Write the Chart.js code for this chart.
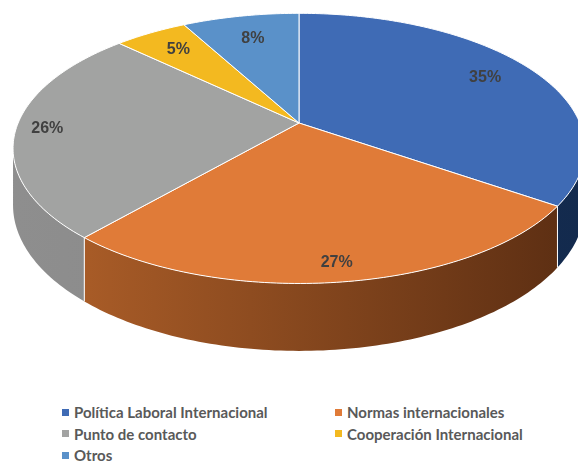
<!DOCTYPE html>
<html>
<head>
<meta charset="utf-8">
<script src="https://cdn.jsdelivr.net/npm/chart.js@4.4.1/dist/chart.umd.min.js"></script>
<style>
  html, body { margin: 0; padding: 0; background: #fff; }
  #wrap { position: relative; width: 578px; height: 462px; overflow: hidden; }
  #chartBox { position: absolute; left: 0; top: 0; width: 578px; height: 370px; }
  #legend {
    position: absolute; left: 62px; top: 403px;
    display: grid; grid-template-columns: 273px auto; row-gap: 3.5px;
    font: bold 15px Lato, "Open Sans", sans-serif; color: #595959;
  }
  #legend .item { display: flex; align-items: center; height: 18px; white-space: nowrap; }
  #legend .box { width: 7px; height: 7px; margin-right: 5px; flex: none; }
</style>
</head>
<body>
<div id="wrap">
  <div id="chartBox"><canvas id="pie3d"></canvas></div>
  <div id="legend"></div>
</div>
<script>
const labels = [
  'Política Laboral Internacional',
  'Normas internacionales',
  'Punto de contacto',
  'Cooperación Internacional',
  'Otros'
];
const values = [35, 27, 26, 5, 8];

const topColors = ['#3F6BB5', '#E07B38', '#A2A3A2', '#F3B920', '#5A91C9'];
// light / dark shade for the rim of each slice
const sideShades = [
  ['#1A3360', '#132A4D'],
  ['#B3622A', '#5A2D12'],
  ['#8E8E8E', '#838383'],
  ['#B88C18', '#8A6810'],
  ['#3F6C99', '#2E5478']
];
const labelRadius = [0.8, 0.9, 0.89, 0.79, 0.76];

// perspective of the tilted disc, in units of the pie radius
const SPREAD_X = 2.565;
const SPREAD_Y = 1.19;
const PERSP = 0.188;
const DEPTH = 0.5;

// theta runs clockwise from the back (12 o'clock), depth 0 = top face, 1 = bottom
function project(cx, cy, R, theta, r, depth) {
  const c = Math.cos(theta), s = Math.sin(theta);
  const den = 1 + PERSP * r * c;
  return [
    cx + SPREAD_X * R * r * s / den,
    cy + (depth * DEPTH * R - SPREAD_Y * R * r * c) / den
  ];
}

const pie3d = {
  id: 'pie3d',
  beforeDatasetsDraw(chart) {
    const ctx = chart.ctx;
    const arcs = chart.getDatasetMeta(0).data;
    if (!arcs.length) return false;
    const cx = arcs[0].x, cy = arcs[0].y, R = arcs[0].outerRadius;
    const P = (t, r, d) => project(cx, cy, R, t, r, d);
    const th = a => a + Math.PI / 2;
    const step = Math.PI / 180;

    const right = Math.acos(-PERSP);
    const left = 2 * Math.PI - right;
    const xL = P(left, 1, 0)[0], xR = P(right, 1, 0)[0];

    ctx.save();
    // rim
    arcs.forEach((arc, i) => {
      const a = Math.max(th(arc.startAngle), right);
      const b = Math.min(th(arc.endAngle), left);
      if (b <= a) return;
      ctx.beginPath();
      let p = P(a, 1, 0);
      ctx.moveTo(p[0], p[1]);
      for (let t = a; t < b; t += step) { p = P(t, 1, 0); ctx.lineTo(p[0], p[1]); }
      p = P(b, 1, 0); ctx.lineTo(p[0], p[1]);
      for (let t = b; t > a; t -= step) { p = P(t, 1, 1); ctx.lineTo(p[0], p[1]); }
      p = P(a, 1, 1); ctx.lineTo(p[0], p[1]);
      ctx.closePath();
      const g = ctx.createLinearGradient(xL, 0, xR, 0);
      g.addColorStop(0, sideShades[i][0]);
      g.addColorStop(1, sideShades[i][1]);
      ctx.fillStyle = g;
      ctx.fill();
    });
    // seams on the rim
    ctx.strokeStyle = '#fff';
    ctx.lineWidth = 1;
    arcs.forEach(arc => {
      const t = th(arc.startAngle);
      if (t <= right || t >= left) return;
      const p0 = P(t, 1, 0), p1 = P(t, 1, 1);
      ctx.beginPath();
      ctx.moveTo(p0[0], p0[1]);
      ctx.lineTo(p1[0], p1[1]);
      ctx.stroke();
    });
    // top faces
    arcs.forEach(arc => {
      const a = th(arc.startAngle), b = th(arc.endAngle);
      ctx.beginPath();
      ctx.moveTo(cx, cy);
      for (let t = a; t < b; t += step) { const p = P(t, 1, 0); ctx.lineTo(p[0], p[1]); }
      const pe = P(b, 1, 0);
      ctx.lineTo(pe[0], pe[1]);
      ctx.closePath();
      ctx.fillStyle = arc.options.backgroundColor;
      ctx.fill();
      ctx.strokeStyle = arc.options.borderColor;
      ctx.lineWidth = arc.options.borderWidth;
      ctx.lineJoin = 'round';
      ctx.stroke();
    });
    // value labels
    ctx.font = 'bold 16px "Liberation Sans", Arial, sans-serif';
    ctx.fillStyle = '#404040';
    ctx.textAlign = 'center';
    ctx.textBaseline = 'middle';
    arcs.forEach((arc, i) => {
      const mid = (th(arc.startAngle) + th(arc.endAngle)) / 2;
      const p = P(mid, labelRadius[i], 0);
      ctx.fillText(chart.data.datasets[0].data[i] + '%', p[0], p[1]);
    });
    ctx.restore();
    return false;
  }
};

const chart = new Chart(document.getElementById('pie3d'), {
  type: 'pie',
  data: {
    labels: labels,
    datasets: [{
      data: values,
      backgroundColor: topColors,
      borderColor: '#ffffff',
      borderWidth: 1
    }]
  },
  options: {
    responsive: true,
    maintainAspectRatio: false,
    animation: false,
    layout: { padding: { left: 189, right: 169, top: 13, bottom: 137 } },
    plugins: {
      legend: { display: false },
      tooltip: { enabled: false }
    }
  },
  plugins: [pie3d]
});

// legend below the pie, two columns
const legendEl = document.getElementById('legend');
chart.data.labels.forEach((name, i) => {
  const item = document.createElement('div');
  item.className = 'item';
  const box = document.createElement('span');
  box.className = 'box';
  box.style.background = chart.data.datasets[0].backgroundColor[i];
  item.appendChild(box);
  item.appendChild(document.createTextNode(name));
  legendEl.appendChild(item);
});
</script>
</body>
</html>
